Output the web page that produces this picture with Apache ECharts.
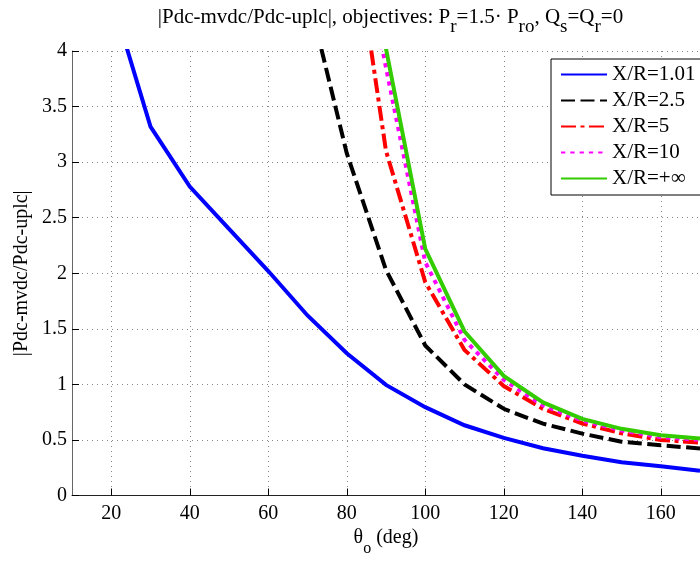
<!DOCTYPE html>
<html>
<head>
<meta charset="utf-8">
<script src="https://cdn.jsdelivr.net/npm/echarts@6/dist/echarts.min.js"></script>
<style>html,body{margin:0;padding:0;background:#fff;}#c{width:700px;height:562px;}</style>
</head>
<body>
<div id="c"></div>
<script>
// Data
var theta = [20, 30, 40, 50, 60, 70, 80, 90, 100, 110, 120, 130, 140, 150, 160, 170];
var xr101 = [4.49, 3.32, 2.78, 2.40, 2.02, 1.62, 1.28, 0.995, 0.795, 0.632, 0.518, 0.425, 0.358, 0.300, 0.263, 0.222];
var xr25 = [null, null, null, null, null, 4.53, 3.08, 2.03, 1.35, 1.00, 0.78, 0.646, 0.557, 0.484, 0.452, 0.423];
var xr5 = [null, null, null, null, null, null, 5.5, 3.1, 1.92, 1.31, 0.985, 0.78, 0.648, 0.56, 0.50, 0.476];
var xr10 = [null, null, null, null, null, null, 5.7, 3.85, 2.10, 1.40, 1.04, 0.81, 0.675, 0.585, 0.525, 0.50];
var xrInf = [null, null, null, null, null, null, 6.5, 4.02, 2.22, 1.476, 1.076, 0.838, 0.69, 0.60, 0.542, 0.512];
var seriesNames = ['X/R=1.01', 'X/R=2.5', 'X/R=5', 'X/R=10', 'X/R=+\u221E'];
var xTicks = [20, 40, 60, 80, 100, 120, 140, 160];
var yTicks = [0, 0.5, 1, 1.5, 2, 2.5, 3, 3.5, 4];

var FONT = 'Liberation Serif';
function pairs(vals) {
  var out = [];
  for (var i = 0; i < theta.length; i++) {
    if (vals[i] !== null) out.push([theta[i], vals[i]]);
  }
  return out;
}
var styles = [
  {color: '#0000ff', type: 'solid'},
  {color: '#000000', type: [14, 5.5]},
  {color: '#ff0000', type: [15, 4.5, 4, 4.5]},
  {color: '#ff00ff', type: [4.3, 5]},
  {color: '#33cc00', type: 'solid'}
];
var allData = [xr101, xr25, xr5, xr10, xrInf];
var series = allData.map(function (d, i) {
  return {
    name: seriesNames[i],
    type: 'line',
    data: pairs(d),
    symbol: 'none',
    clip: true,
    color: styles[i].color,
    lineStyle: {color: styles[i].color, width: 4, type: styles[i].type, cap: 'butt', join: 'miter'},
    z: 2 + i,
    animation: false
  };
});

var chart = echarts.init(document.getElementById('c'), null, {renderer: 'canvas'});
chart.setOption({
  animation: false,
  backgroundColor: '#ffffff',
  title: {
    text: '|Pdc-mvdc/Pdc-uplc|, objectives: P{s|r}=1.5\u00B7 P{s|ro}, Q{s|s}=Q{s|r}=0',
    left: 390.5,
    textAlign: 'center',
    top: 5,
    padding: 0,
    textStyle: {
      fontFamily: FONT, fontSize: 21, fontWeight: 'normal', color: '#000', lineHeight: 24,
      rich: {
        s: {fontFamily: FONT, fontSize: 19, padding: [21, 0, 0, 0], color: '#000'}
      }
    }
  },
  grid: {left: 72, top: 51, right: -11.7, bottom: 61, containLabel: false},
  legend: {
    orient: 'vertical',
    left: 551,
    top: 59,
    padding: [5, 5, 6, 9],
    itemWidth: 46,
    itemHeight: 14,
    itemGap: 5,
    backgroundColor: '#ffffff',
    borderColor: '#000',
    borderWidth: 1,
    borderRadius: 0,
    data: seriesNames,
    itemStyle: {opacity: 0},
    textStyle: {fontFamily: FONT, fontSize: 21, color: '#000'},
    z: 10
  },
  xAxis: {
    type: 'value',
    min: 10,
    max: 170,
    name: '\u03B8{s|o} (deg)',
    nameLocation: 'middle',
    nameGap: 30,
    nameMoveOverlap: false,
    nameTextStyle: {
      fontFamily: FONT, fontSize: 20, color: '#000', lineHeight: 24,
      rich: {s: {fontFamily: FONT, fontSize: 16, padding: [23, 0, 0, 0], color: '#000'}}
    },
    axisLine: {show: true, onZero: false, lineStyle: {color: '#222', width: 1}},
    axisTick: {show: true, inside: true, length: 7, customValues: xTicks, lineStyle: {color: '#000', width: 1}},
    axisLabel: {show: true, customValues: xTicks, margin: 8, fontFamily: FONT, fontSize: 20, color: '#000'},
    splitLine: {show: true, lineStyle: {color: '#888', width: 1, type: [1, 4]}}
  },
  yAxis: {
    type: 'value',
    min: 0,
    max: 4,
    interval: 0.5,
    name: '|Pdc-mvdc/Pdc-uplc|',
    nameLocation: 'middle',
    nameGap: 40,
    nameMoveOverlap: false,
    nameTextStyle: {fontFamily: FONT, fontSize: 20, color: '#000'},
    axisLine: {show: true, lineStyle: {color: '#666', width: 1}},
    axisTick: {show: true, inside: true, length: 7, lineStyle: {color: '#000', width: 1}},
    axisLabel: {show: true, margin: 5, padding: [4, 0, 0, 0], fontFamily: FONT, fontSize: 20, color: '#000',
      formatter: function (v) { return String(v); }},
    splitLine: {show: true, lineStyle: {color: '#888', width: 1, type: [1, 4]}}
  },
  series: series
});
</script>
</body>
</html>
